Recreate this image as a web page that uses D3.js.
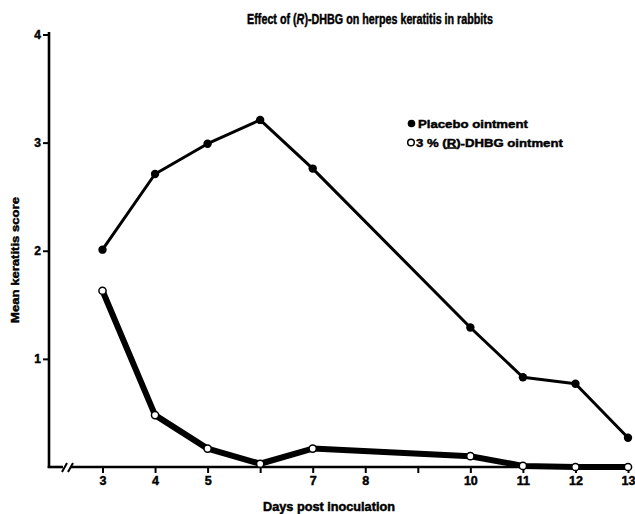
<!DOCTYPE html>
<html>
<head>
<meta charset="utf-8">
<script src="https://cdn.jsdelivr.net/npm/d3@7"></script>
<style>
  html, body { margin: 0; padding: 0; background: #fff; }
  svg { display: block; }
  text { font-family: "Liberation Sans", Arial, sans-serif; font-weight: bold; fill: #000; stroke: #000; stroke-width: 0.45; }
</style>
</head>
<body>
<svg id="chart" width="635" height="514"></svg>
<script>
// ---- data ----
const days = [3, 4, 5, 6, 7, 10, 11, 12, 13];
const placebo = [2.01, 2.71, 2.99, 3.21, 2.76, 1.29, 0.83, 0.77, 0.27];
const dhbg = [1.63, 0.48, 0.17, 0.03, 0.17, 0.10, 0.01, 0.0, 0.0];
const xTicks = [3, 4, 5, 6, 7, 8, 9, 10, 11, 12, 13];
const xTickLabels = ["3", "4", "5", "", "7", "8", "", "10", "11", "12", "13"];
const yTicks = [1, 2, 3, 4];
const yTickLabels = ["1", "2", "3", "4"];

const svg = d3.select("#chart");
const x = d3.scaleLinear().domain([3, 13]).range([102.5, 628]);
const y = d3.scaleLinear().domain([0, 4]).range([467, 34.5]);
const axisX0 = 49;

// helper: a text horizontally squeezed to a target width
function fitText(tx, ty, width, size, anchor, rotate, build) {
  const g = svg.append("g");
  const t = g.append("text").attr("x", 0).attr("y", 0)
    .attr("text-anchor", anchor).attr("font-size", size);
  build(t);
  const w = t.node().getComputedTextLength();
  const s = width / w;
  g.attr("transform", `translate(${tx},${ty})` + (rotate ? ` rotate(${rotate})` : "") + ` scale(${s},1)`);
  return t;
}

// title
fitText(370, 24, 246, 14, "middle", 0, t => {
  t.append("tspan").text("Effect of (");
  t.append("tspan").attr("font-style", "italic").text("R");
  t.append("tspan").text(")-DHBG on herpes keratitis in rabbits");
});

// y axis
const yAxis = d3.axisLeft(y).tickValues(yTicks)
  .tickFormat((d, i) => yTickLabels[i]).tickSize(6).tickPadding(2);
const gy = svg.append("g").attr("transform", `translate(${axisX0},0)`).call(yAxis);
gy.select(".domain").remove();
gy.selectAll(".tick line").attr("stroke", "#000").attr("stroke-width", 2);
gy.selectAll(".tick text").attr("font-size", 12).attr("font-family", "Liberation Sans, Arial, sans-serif").attr("font-weight", "bold");
svg.append("line").attr("x1", axisX0).attr("x2", axisX0)
  .attr("y1", 32).attr("y2", y(0) + 1)
  .attr("stroke", "#000").attr("stroke-width", 2.6);

// x axis
const xAxis = d3.axisBottom(x).tickValues(xTicks)
  .tickFormat((d, i) => xTickLabels[i]).tickSize(6).tickPadding(3);
const gx = svg.append("g").attr("transform", `translate(0,${y(0)})`).call(xAxis);
gx.select(".domain").remove();
gx.selectAll(".tick line").attr("stroke", "#000").attr("stroke-width", 2);
gx.selectAll(".tick text").attr("font-size", 12.5).attr("font-family", "Liberation Sans, Arial, sans-serif").attr("font-weight", "bold");
// axis line with break
svg.append("line").attr("x1", axisX0 - 1.3).attr("x2", 63)
  .attr("y1", y(0)).attr("y2", y(0)).attr("stroke", "#000").attr("stroke-width", 2.6);
svg.append("line").attr("x1", 71).attr("x2", 632)
  .attr("y1", y(0)).attr("y2", y(0)).attr("stroke", "#000").attr("stroke-width", 2.6);
[62, 68].forEach(bx => {
  svg.append("line").attr("x1", bx).attr("y1", y(0) + 5)
    .attr("x2", bx + 5).attr("y2", y(0) - 4)
    .attr("stroke", "#000").attr("stroke-width", 2);
});

// axis titles
fitText(19, 260, 126, 11.5, "middle", -90, t => t.text("Mean keratitis score"));
fitText(329, 511, 132, 12, "middle", 0, t => t.text("Days post inoculation"));

// lines
const line = d3.line().x((d, i) => x(days[i])).y(d => y(d));
svg.append("path").datum(dhbg).attr("d", line)
  .attr("fill", "none").attr("stroke", "#000").attr("stroke-width", 6)
  .attr("stroke-linejoin", "round");
svg.append("path").datum(placebo).attr("d", line)
  .attr("fill", "none").attr("stroke", "#000").attr("stroke-width", 3)
  .attr("stroke-linejoin", "round");

svg.append("g").selectAll("circle").data(placebo).join("circle")
  .attr("cx", (d, i) => x(days[i])).attr("cy", d => y(d)).attr("r", 4.2)
  .attr("fill", "#000");
svg.append("g").selectAll("circle").data(dhbg).join("circle")
  .attr("cx", (d, i) => x(days[i])).attr("cy", d => y(d)).attr("r", 3.6)
  .attr("fill", "#fff").attr("stroke", "#000").attr("stroke-width", 1.5);

// legend
svg.append("circle").attr("cx", 411.5).attr("cy", 123.5).attr("r", 3.8).attr("fill", "#000");
fitText(418, 127.5, 110, 11.5, "start", 0, t => t.text("Placebo ointment"));
svg.append("circle").attr("cx", 411).attr("cy", 142.5).attr("r", 3.3)
  .attr("fill", "#fff").attr("stroke", "#000").attr("stroke-width", 1.5);
fitText(416, 146.5, 147, 11.5, "start", 0, t => {
  t.append("tspan").text("3 % (");
  t.append("tspan").attr("text-decoration", "underline").text("R");
  t.append("tspan").text(")-DHBG ointment");
});
</script>
</body>
</html>
